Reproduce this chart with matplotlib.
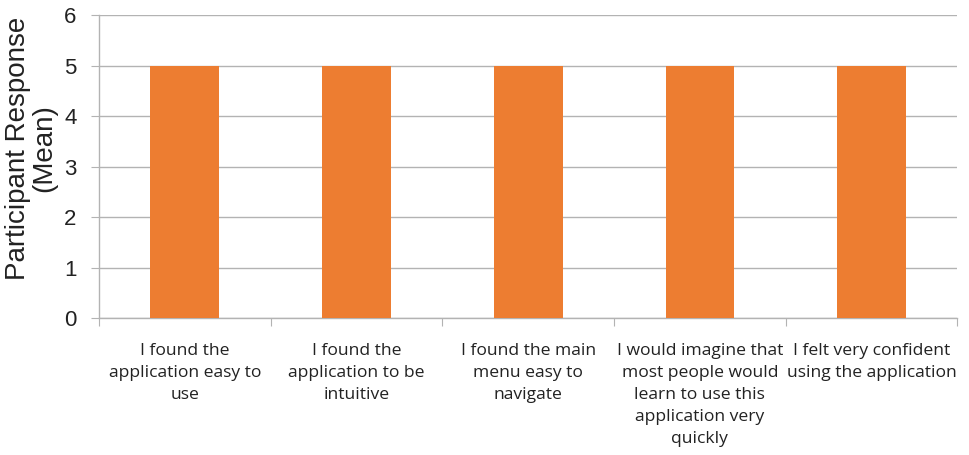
import matplotlib
matplotlib.use("Agg")
import matplotlib.pyplot as plt
import numpy as np

categories = [
    "I found the\napplication easy to\nuse",
    "I found the\napplication to be\nintuitive",
    "I found the main\nmenu easy to\nnavigate",
    "I would imagine that\nmost people would\nlearn to use this\napplication very\nquickly",
    "I felt very confident\nusing the application",
]
means = [5, 5, 5, 5, 5]
y_ticks = [0, 1, 2, 3, 4, 5, 6]

fig = plt.figure(figsize=(9.7, 4.55), dpi=100)
ax = fig.add_axes([0.102, 0.301, 0.885, 0.666])

x = np.arange(len(categories))
ax.bar(x, means, width=0.4, color="#ED7D31", zorder=3)

ax.set_xlim(-0.5, len(categories) - 0.5)
ax.set_ylim(0, 6)
ax.set_yticks(y_ticks)
ax.set_yticklabels([str(t) for t in y_ticks], fontfamily="Liberation Sans", fontsize=16, color="#222222")
ax.yaxis.grid(True, color="#b3b3b3", linewidth=1.0, zorder=0)

# category boundaries as major ticks, labels at the centres
ax.set_xticks(np.arange(len(categories) + 1) - 0.5)
ax.set_xticklabels([])
ax.set_xticks(x, minor=True)
ax.set_xticklabels(categories, minor=True, fontfamily="Open Sans", fontsize=12.6,
                   color="#222222", linespacing=1.5, va="top")
ax.tick_params(axis="x", which="major", length=6, color="#b3b3b3", direction="out")
ax.tick_params(axis="x", which="minor", length=0, pad=18)
ax.tick_params(axis="y", length=6, color="#b3b3b3", pad=10)

for side in ("top", "right"):
    ax.spines[side].set_visible(False)
for side in ("left", "bottom"):
    ax.spines[side].set_color("#b3b3b3")
    ax.spines[side].set_linewidth(1.0)

ax.set_ylabel("Participant Response\n(Mean)", fontfamily="Liberation Sans", fontsize=20,
              color="#222222", linespacing=1.0)
ax.yaxis.set_label_coords(-0.049, 0.56)

fig.savefig("out.png", dpi=100)
